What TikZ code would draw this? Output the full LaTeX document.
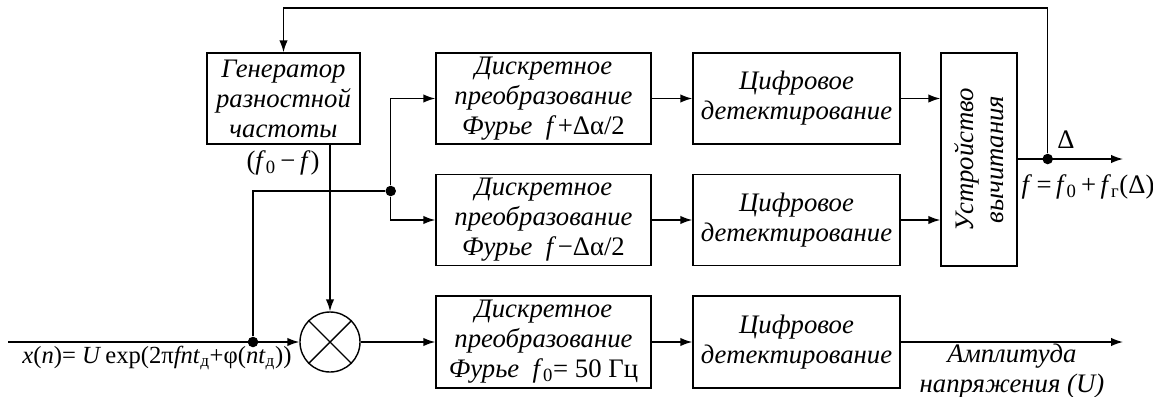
\documentclass[tikz,border=0pt]{standalone}
\usepackage{fontspec}
\setmainfont{Liberation Serif}
\usetikzlibrary{arrows.meta}

\begin{document}
\begin{tikzpicture}[x=0.025cm,y=-0.025cm,
  blk/.style={draw,line width=1pt,inner sep=0pt,align=center,
    font=\fontsize{19}{21.3}\selectfont\itshape},
  arr/.style={-{Latex[length=8.5pt,width=6pt]},line width=1pt},
  jdot/.style={circle,fill,inner sep=0pt,minimum size=7.5pt},
  lbl/.style={font=\fontsize{19}{21.3}\selectfont,align=center}]
\useasboundingbox (0,0) rectangle (1153,396);

% blocks
\node[blk,minimum width=3.825cm,minimum height=2.275cm] (gen) at (283.5,98.5) {Генератор\\разностной\\частоты};
\node[blk,minimum width=5.375cm,minimum height=2.275cm] (dftone) at (543.5,98.5) {Дискретное\\преобразование\\Фурье\ \ \textit{f}\,\textup{+Δα/2}};
\node[blk,minimum width=5.375cm,minimum height=2.275cm] (dfttwo) at (543.5,220) {Дискретное\\преобразование\\Фурье\ \ \textit{f}\,\textup{−Δα/2}};
\node[blk,minimum width=5.375cm,minimum height=2.3cm] (dftthree) at (543.5,342) {Дискретное\\преобразование\\Фурье\ \ \textit{f}\textup{\textsubscript{0}= 50 Гц}};
\node[blk,minimum width=5.175cm,minimum height=2.275cm] (detone) at (796.5,98.5) {Цифровое\\детектирование};
\node[blk,minimum width=5.175cm,minimum height=2.275cm] (dettwo) at (796.5,220) {Цифровое\\детектирование};
\node[blk,minimum width=5.175cm,minimum height=2.3cm] (detthree) at (796.5,342) {Цифровое\\детектирование};
\node[blk,minimum width=1.9cm,minimum height=5.325cm] (sub) at (979,159.5) {};
\node[blk,draw=none,rotate=90] (subtext) at (sub) {Устройство\\вычитания};
\node[draw,circle,line width=1pt,minimum size=1.5cm,inner sep=0pt] (mult) at (330,342) {};
\draw[line width=1pt] (mult.north west) -- (mult.south east) (mult.north east) -- (mult.south west);

% junctions
\coordinate (in) at (8,342);
\node[jdot] (jin) at (253,342) {};
\node[jdot] (jsplit) at (390.7,191) {};
\node[jdot] (jout) at (1047.7,159) {};
\coordinate (fb) at (1047.7,8);
\coordinate (outone) at (1123,159);
\coordinate (outtwo) at (1123,342);

% connectors
\draw[arr] (in) -- (mult);
\draw[line width=1pt] (jin) |- (jsplit);
\draw[arr] (jsplit) |- (dftone.west);
\draw[arr] (jsplit) |- (dfttwo.west);
\draw[arr] (mult |- gen.south) -- (mult);
\draw[arr] (mult) -- (dftthree);
\draw[arr] (dftone) -- (detone);
\draw[arr] (dfttwo) -- (dettwo);
\draw[arr] (dftthree) -- (detthree);
\draw[arr] (detone) -- (detone -| sub.west);
\draw[arr] (dettwo) -- (dettwo -| sub.west);
\draw[arr] (sub.east |- jout) -- (outone);
\draw[arr] (jout) -- (fb) -| (gen.north);
\draw[arr] (detthree) -- (outtwo);

% labels
\node[lbl] (genout) at (283,163) {(\textit{f}\textsubscript{0}\,−\,\textit{f})};
\node[lbl] (delta) at (1066,140) {Δ};
\node[lbl] (freq) at (1088,187) {\textit{f}\,=\,\textit{f}\textsubscript{0}\,+\,\textit{f}\textsubscript{г}(Δ)};
\node[lbl,font=\fontsize{17.5}{21}\selectfont] (signal) at (157,358) {\textit{x}(\textit{n})= \textit{U}\,exp(2π\textit{fnt}\textsubscript{д}+φ(\textit{nt}\textsubscript{д}))};
\node[lbl,font=\fontsize{19}{21.3}\selectfont\itshape] (ampl) at (1012,371) {Амплитуда\\напряжения (\textit{U})};
\end{tikzpicture}
\end{document}
